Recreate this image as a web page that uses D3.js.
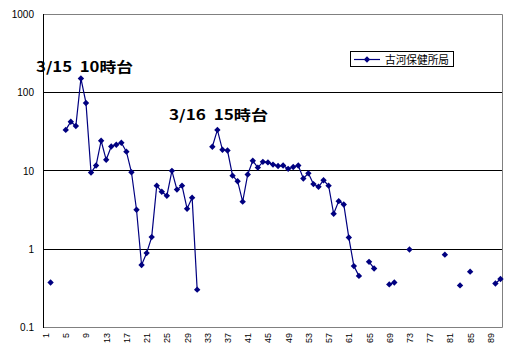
<!DOCTYPE html>
<html>
<head>
<meta charset="utf-8">
<script src="https://cdn.jsdelivr.net/npm/d3@7"></script>
<style>
  body { margin: 0; background: #fff; }
  svg { display: block; }
  text { font-family: Arial, "Liberation Sans", sans-serif; }
  .jp { font-family: "Noto Sans CJK JP", sans-serif; white-space: pre; }
</style>
</head>
<body>
<div id="chart"></div>
<script>
// categories 1..91 (x axis), value null = no data
const categories = d3.range(1, 92)
const xTickLabels = d3.range(1, 92, 4)
const yTickValues = [0.1, 1, 10, 100, 1000]
const yTickLabels = ['0.1', '1', '10', '100', '1000']
const seriesName = '古河保健所局'
const values = [
  null, 0.37, null, null, 33, 42, 37, 150, 73, 9.4,          // 1-10
  11.6, 24, 13.7, 20.3, 21.3, 22.6, 17.4, 9.5, 3.15, 0.62,  // 11-20
  0.88, 1.41, 6.4, 5.35, 4.75, 9.9, 5.7, 6.4, 3.25, 4.5,    // 21-30
  0.30, null, null, 20.1, 33, 18.4, 18, 8.6, 7.3, 4.0,      // 31-40
  8.9, 13.3, 10.9, 12.9, 12.7, 11.9, 11.4, 11.6, 10.5, 11.1, // 41-50
  11.6, 7.9, 9.2, 6.7, 6.2, 7.5, 6.4, 2.8, 4.06, 3.68,      // 51-60
  1.39, 0.60, 0.45, null, 0.68, 0.56, null, null, 0.35, 0.37, // 61-70
  null, null, 0.98, null, null, null, null, null, null, 0.84, // 71-80
  null, null, 0.34, null, 0.51, null, null, null, null, 0.36, // 81-90
  0.41                                                      // 91
]
const annotations = [
  { text: '3/15  10時台', x0: 36, x1: 133, y: 72 },
  { text: '3/16  15時台', x0: 169, x1: 268, y: 120 }
]

const width = 507, height = 352
const plot = { left: 43, right: 503, top: 14, bottom: 327 }
const NAVY = '#000080'

const $svg = d3.select('#chart').append('svg')
  .attr('width', width)
  .attr('height', height)

const x = d3.scalePoint()
  .domain(categories)
  .range([plot.left, plot.right])
  .padding(0.5)

const y = d3.scaleLog()
  .domain([0.1, 1000])
  .range([plot.bottom, plot.top])

// gridlines
$svg.append('g').selectAll('line')
  .data([1, 10, 100])
  .join('line')
  .attr('x1', plot.left).attr('x2', plot.right)
  .attr('y1', d => Math.round(y(d)) + 0.5).attr('y2', d => Math.round(y(d)) + 0.5)
  .attr('stroke', '#000')

// frame: gray top/right/bottom, black left axis
$svg.append('path')
  .attr('d', `M${plot.left},${plot.top + 0.5}H${plot.right - 0.5}V${plot.bottom + 0.5}H${plot.left}`)
  .attr('fill', 'none')
  .attr('stroke', '#808080')
$svg.append('line')
  .attr('x1', plot.left + 0.5).attr('x2', plot.left + 0.5)
  .attr('y1', plot.top).attr('y2', plot.bottom + 1)
  .attr('stroke', '#000')

// y labels
$svg.append('g').selectAll('text')
  .data(yTickValues)
  .join('text')
  .attr('x', 34)
  .attr('y', d => y(d) + 4)
  .attr('text-anchor', 'end')
  .attr('font-size', 10)
  .text((d, i) => yTickLabels[i])

// x labels, rotated
$svg.append('g').selectAll('text')
  .data(xTickLabels)
  .join('text')
  .attr('transform', d => `translate(${x(d) + 3.5},${plot.bottom + 6}) rotate(-90)`)
  .attr('text-anchor', 'end')
  .attr('font-size', 9)
  .text(d => d)

// series
const pts = categories.map((c, i) => ({ cat: c, v: values[i] }))
const line = d3.line()
  .defined(d => d.v != null)
  .x(d => x(d.cat))
  .y(d => y(d.v))

$svg.append('path')
  .datum(pts)
  .attr('d', line)
  .attr('fill', 'none')
  .attr('stroke', NAVY)
  .attr('stroke-width', 1.2)

const diamond = d3.symbol().type(d3.symbolDiamond2).size(26)
$svg.append('g').selectAll('path')
  .data(pts.filter(d => d.v != null))
  .join('path')
  .attr('d', diamond)
  .attr('transform', d => `translate(${x(d.cat)},${y(d.v)})`)
  .attr('fill', NAVY)

// annotations
$svg.append('g').selectAll('text')
  .data(annotations)
  .join('text')
  .attr('class', 'jp')
  .attr('x', d => d.x0)
  .attr('y', d => d.y)
  .attr('font-size', 14)
  .attr('font-weight', 'bold')
  .attr('textLength', d => d.x1 - d.x0)
  .attr('lengthAdjust', 'spacingAndGlyphs')
  .text(d => d.text)

// legend
const $legend = $svg.append('g').attr('transform', 'translate(350,51)')
$legend.append('rect')
  .attr('x', 0.5).attr('y', 0.5)
  .attr('width', 103).attr('height', 15)
  .attr('fill', '#fff').attr('stroke', '#000')
$legend.append('line')
  .attr('x1', 4).attr('x2', 30).attr('y1', 8.5).attr('y2', 8.5)
  .attr('stroke', NAVY).attr('stroke-width', 1.2)
$legend.append('path')
  .attr('d', diamond)
  .attr('transform', 'translate(17,8.5)')
  .attr('fill', NAVY)
$legend.append('text')
  .attr('class', 'jp')
  .attr('x', 35).attr('y', 12.5)
  .attr('font-size', 11)
  .attr('textLength', 64)
  .attr('lengthAdjust', 'spacingAndGlyphs')
  .text(seriesName)
</script>
</body>
</html>
